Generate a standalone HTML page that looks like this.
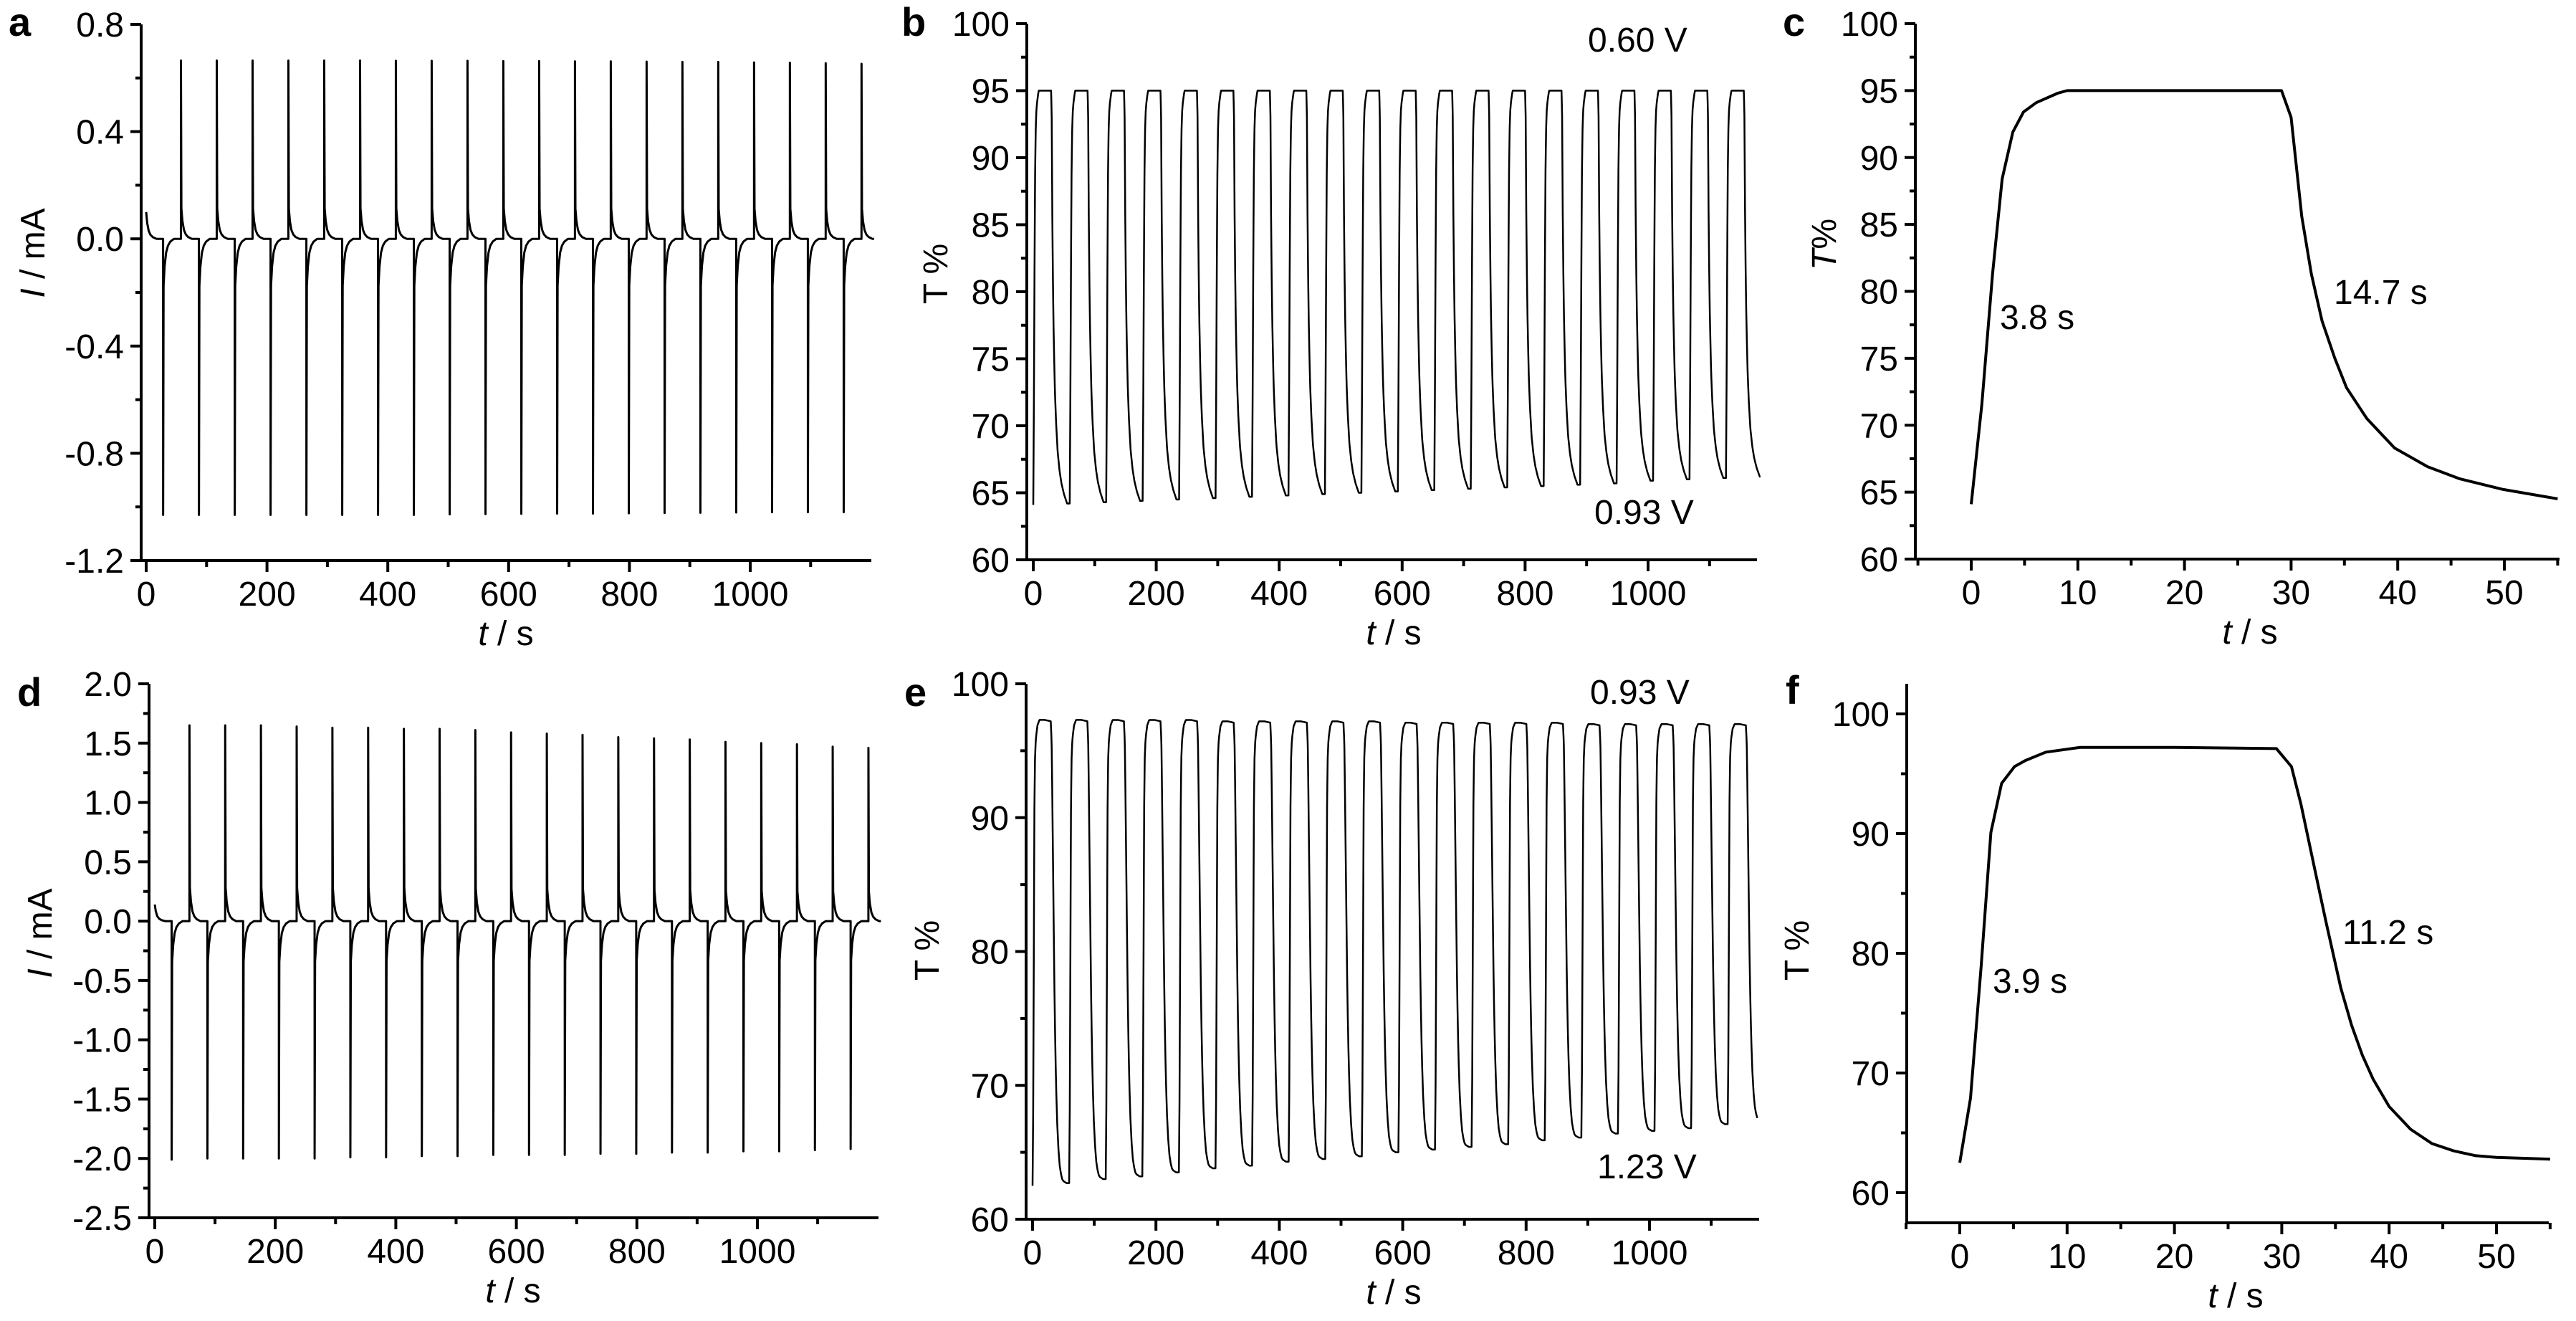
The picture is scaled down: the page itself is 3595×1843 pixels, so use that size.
<!DOCTYPE html>
<html><head><meta charset="utf-8"><style>
html,body{margin:0;padding:0;background:#fff;}
svg{display:block;font-family:"Liberation Sans",Arial,sans-serif;}
</style></head><body>
<svg id="fig" xmlns="http://www.w3.org/2000/svg" width="3595" height="1843" viewBox="0 0 3595 1843"></svg>
<script>
// ---------- data ----------
const period = 59.3;
const cycleCount = 20;
// panel a currents (mA)
const aPosPeaks = [0.665,0.665,0.665,0.665,0.665,0.665,0.664,0.664,0.664,0.663,0.663,0.662,0.662,0.661,0.66,0.66,0.658,0.657,0.655,0.653];
const aNegPeaks = [-1.03,-1.03,-1.03,-1.03,-1.03,-1.03,-1.03,-1.03,-1.028,-1.027,-1.026,-1.025,-1.025,-1.024,-1.023,-1.022,-1.021,-1.02,-1.02,-1.02];
const aStart = 0.1;
// panel d currents (mA)
const dPosPeaks = [1.65,1.65,1.65,1.64,1.63,1.63,1.62,1.62,1.61,1.59,1.58,1.57,1.55,1.54,1.53,1.51,1.5,1.49,1.47,1.46];
const dNegPeaks = [-2.01,-2.0,-2.0,-2.0,-2.0,-1.99,-1.99,-1.98,-1.98,-1.97,-1.97,-1.97,-1.96,-1.96,-1.95,-1.95,-1.94,-1.94,-1.93,-1.92];
const dStart = 0.14;
// panel b transmittance cycles
const bMax = [95,95,95,95,95,95,95,95,95,95,95,95,95,95,95,95,95,95,95,95];
const bMin = [64.2,64.3,64.4,64.5,64.6,64.7,64.8,64.9,65.0,65.1,65.2,65.3,65.4,65.5,65.6,65.7,65.9,66.0,66.1,66.2];
const bStartT = 64.1;
// panel e transmittance cycles
const eMax = [97.2,97.2,97.2,97.2,97.2,97.1,97.1,97.1,97.1,97.1,97.0,97.0,97.0,97.0,97.0,96.9,96.9,96.9,96.9,96.9];
const eMin = [62.7,63.0,63.2,63.5,63.8,64.0,64.3,64.5,64.7,65.0,65.2,65.4,65.6,65.9,66.1,66.4,66.6,66.8,67.1,67.3];
const eStartT = 62.5;
// panel c single cycle
const cT = [0,1,2,2.9,3.9,4.9,6.1,8.1,9,29.1,30,31,31.9,32.9,34.1,35.2,37.1,39.7,42.8,45.8,49.9,55];
const cV = [64.1,71.6,81.3,88.4,91.9,93.4,94.1,94.8,95,95,93,85.6,81.3,77.8,75,72.8,70.5,68.3,66.9,66,65.2,64.5];
// panel f single cycle
const fT = [0,1,2,2.9,3.9,5.1,6.1,8,11.2,20,29.5,30.9,31.8,33.1,34.1,35.5,36.5,37.5,38.5,40,42,44,46,48,50,55];
const fV = [62.5,67.9,79,90.1,94.2,95.6,96.1,96.8,97.2,97.2,97.1,95.6,92.4,86.9,82.7,77.1,74,71.5,69.5,67.2,65.3,64.1,63.5,63.1,62.95,62.8];
// spike decay template (fraction of peak after spike)
const decayDt = [0,0.05,0.8,2.5,5,8,12,18];
const decayFrac = [0,1,0.17,0.1,0.05,0.025,0.01,0];
// tick labels
const aYTicks = [0.8,0.4,0.0,-0.4,-0.8,-1.2];
const dYTicks = [2.0,1.5,1.0,0.5,0.0,-0.5,-1.0,-1.5,-2.0,-2.5];
const bYTicks = [60,65,70,75,80,85,90,95,100];
const eYTicks = [60,70,80,90,100];
const longXTicks = [0,200,400,600,800,1000];
const shortXTicks = [0,10,20,30,40,50];

// ---------- helpers ----------
const NS = "http://www.w3.org/2000/svg";
const svg = document.getElementById('fig');
function el(tag, attrs, parent){ const e=document.createElementNS(NS,tag); for(const k in attrs) e.setAttribute(k,attrs[k]); (parent||svg).appendChild(e); return e; }

function makeAxes(p){
  const g = el('g',{});
  
  
  const X = v => p.x0 + (v - 0) * p.xs;
  const Y = v => p.py0 + (v - p.vy0) * (p.py1 - p.py0) / (p.vy1 - p.vy0);
  p.X = X; p.Y = Y; p.g = g;
  // axes lines
  const ya = el('line',{x1:p.yAxisX,y1:p.yTop,x2:p.yAxisX,y2:p.xAxisY+2,stroke:'#000','stroke-width':4},g);
  
  
  const xa = el('line',{x1:p.yAxisX-2,y1:p.xAxisY,x2:p.xEnd,y2:p.xAxisY,stroke:'#000','stroke-width':4},g);
  
  
  // y ticks
  p.yTicks.forEach(v=>{
    const y=Y(v);
    el('line',{x1:p.yAxisX-15,y1:y,x2:p.yAxisX,y2:y,stroke:'#000','stroke-width':4},g);
    const t=el('text',{x:p.yAxisX-24,y:y+17,'font-size':48,'text-anchor':'end',fill:'#000'},g);
    t.textContent = p.yFmt(v);
    
    
  });
  for(let v=p.yMinorStart; v<=p.yMinorEnd+1e-9; v+=p.yMinorStep){
    const y=Y(v);
    el('line',{x1:p.yAxisX-8,y1:y,x2:p.yAxisX,y2:y,stroke:'#000','stroke-width':4},g);
  }
  // x ticks
  p.xTicks.forEach(v=>{
    const x=X(v);
    el('line',{x1:x,y1:p.xAxisY,x2:x,y2:p.xAxisY+16,stroke:'#000','stroke-width':4},g);
    const t=el('text',{x:x,y:p.xAxisY+63,'font-size':48,'text-anchor':'middle',fill:'#000'},g);
    t.textContent = String(v);
    
    
  });
  for(let v=p.xMinorStart; v<=p.xMinorEnd+1e-9; v+=p.xMinorStep){
    const x=X(v);
    el('line',{x1:x,y1:p.xAxisY,x2:x,y2:p.xAxisY+9,stroke:'#000','stroke-width':4},g);
  }
  // x title
  const xt=el('text',{x:p.xTitleX,y:p.xAxisY+118,'font-size':48,'text-anchor':'middle',fill:'#000'},g);
  xt.innerHTML='<tspan font-style="italic">t</tspan> / s';
  
  
  // y title
  const yt=el('text',{x:0,y:0,'font-size':48,'text-anchor':'middle',fill:'#000',transform:`translate(${p.yTitleX},${p.yTitleY}) rotate(-90)`},g);
  yt.innerHTML=p.yTitle;
  
  
  // panel letter
  const pl=el('text',{x:p.letterX,y:p.letterY,'font-size':56,'font-weight':'bold',fill:'#000'},g);
  pl.textContent=p.id;
  
  
  return p;
}
function drawLine(p, pts, w, name){
  const d = pts.map((q,i)=>(i?'L':'M')+p.X(q[0]).toFixed(2)+','+p.Y(q[1]).toFixed(2)).join('');
  const path = el('path',{d:d,fill:'none',stroke:'#000','stroke-width':w,'stroke-linejoin':'round'},p.g);
  
  
}
function annot(p, x, y, txt, name, fam){
  const t=el('text',{x:x,y:y,'font-size':48,fill:'#000'},p.g);
  if(fam) t.setAttribute('font-family',fam);
  t.textContent=txt;
  
  
}
// current series from peaks
function currentSeries(start, negPeaks, posPeaks, tEnd){
  const pts=[];
  // initial decay
  for(let i=2;i<decayDt.length;i++) pts.push([decayDt[i]-0.8, start*decayFrac[i]/0.17]);
  pts[0][0]=0;
  for(let k=0;k<cycleCount;k++){
    const tn = 28 + period*k, tp = 57.5 + period*k;
    [[tn,negPeaks[k]],[tp,posPeaks[k]]].forEach(([ts,pk])=>{
      if(ts>tEnd) return;
      pts.push([ts,0]);
      for(let i=1;i<decayDt.length;i++){ const t=ts+decayDt[i]; if(t<=tEnd) pts.push([t,pk*decayFrac[i]]); }
    });
  }
  pts.push([tEnd,0]);
  return pts;
}
function interp(T,V,t){
  if(t<=T[0]) return V[0];
  for(let i=1;i<T.length;i++) if(t<=T[i]) return V[i-1]+(V[i]-V[i-1])*(t-T[i-1])/(T[i]-T[i-1]);
  return V[V.length-1];
}
// transmittance series built from the single-cycle template
function transSeries(T,V,fallStart,maxArr,minArr,start,tEnd){
  const vLo=V[0], vHi=interp(T,V,fallStart), vEnd=V[V.length-1];
  const pts=[]; let prev=start;
  for(let k=0;k<cycleCount;k++){
    const t0=period*k;
    for(let s=0;s<=period;s+=0.5){
      const t=t0+s; if(t>tEnd) break;
      const v=interp(T,V,Math.min(s,T[T.length-1]));
      let out;
      if(s<=fallStart){ const f=(v-vLo)/(vHi-vLo); out=prev+f*(maxArr[k]-prev); }
      else { let f=(vHi-v)/(vHi-vEnd); if(s>T[T.length-1]) f=1; f=Math.min(f,1); out=maxArr[k]-f*(maxArr[k]-minArr[k]); }
      pts.push([t,out]);
    }
    prev=minArr[k];
  }
  return pts;
}
const f1 = v=>v.toFixed(1), f0 = v=>String(v);

// ---------- panels ----------
const A = makeAxes({id:'a',x0:204,xs:0.843,yAxisX:197,xAxisY:782,yTop:34,xEnd:1216,vy0:0.8,py0:34,vy1:-1.2,py1:782,
  yTicks:aYTicks,yFmt:f1,yMinorStart:-1.0,yMinorEnd:0.6,yMinorStep:0.4,xTicks:longXTicks,xMinorStart:100,xMinorEnd:1100,xMinorStep:200,
  xTitleX:706,yTitleX:62,yTitleY:353,yTitle:'<tspan font-style="italic">I</tspan> / mA',letterX:12,letterY:50});
drawLine(A, currentSeries(aStart,aNegPeaks,aPosPeaks,1205), 3, 'current-trace-a');

const B = makeAxes({id:'b',x0:1442,xs:0.858,yAxisX:1433,xAxisY:781,yTop:33,xEnd:2452,vy0:60,py0:781,vy1:100,py1:33,
  yTicks:bYTicks,yFmt:f0,yMinorStart:62.5,yMinorEnd:97.5,yMinorStep:5,xTicks:longXTicks,xMinorStart:100,xMinorEnd:1100,xMinorStep:200,
  xTitleX:1945,yTitleX:1322,yTitleY:382,yTitle:'T %',letterX:1258,letterY:50});
drawLine(B, transSeries(cT,cV,29.1,bMax,bMin,bStartT,1183), 2.5, 'transmittance-trace-b');
annot(B,2216,72,'0.60 V','label-0.60V');
annot(B,2225,731,'0.93 V','label-0.93V');

const C = makeAxes({id:'c',x0:2751,xs:14.88,yAxisX:2673,xAxisY:780,yTop:33,xEnd:3572,vy0:60,py0:780,vy1:100,py1:33,
  yTicks:bYTicks,yFmt:f0,yMinorStart:62.5,yMinorEnd:97.5,yMinorStep:5,xTicks:shortXTicks,xMinorStart:-5,xMinorEnd:55,xMinorStep:10,
  xTitleX:3140,yTitleX:2562,yTitleY:341,yTitle:'<tspan font-style="italic">T</tspan>%',letterX:2488,letterY:50});
drawLine(C, cT.map((t,i)=>[t,cV[i]]), 4, 'transmittance-cycle-c');
annot(C,2791,459,'3.8 s','label-3.8s');
annot(C,3257,424,'14.7 s','label-14.7s');

const D = makeAxes({id:'d',x0:216,xs:0.841,yAxisX:208,xAxisY:1699,yTop:954,xEnd:1226,vy0:2.0,py0:954,vy1:-2.5,py1:1699,
  yTicks:dYTicks,yFmt:f1,yMinorStart:-2.25,yMinorEnd:1.75,yMinorStep:0.5,xTicks:longXTicks,xMinorStart:100,xMinorEnd:1100,xMinorStep:200,
  xTitleX:716,yTitleX:72,yTitleY:1302,yTitle:'<tspan font-style="italic">I</tspan> / mA',letterX:24,letterY:985});
drawLine(D, currentSeries(dStart,dNegPeaks,dPosPeaks,1205), 3, 'current-trace-d');

const E = makeAxes({id:'e',x0:1441,xs:0.861,yAxisX:1432,xAxisY:1701,yTop:954,xEnd:2455,vy0:60,py0:1701,vy1:100,py1:954,
  yTicks:eYTicks,yFmt:f0,yMinorStart:65,yMinorEnd:95,yMinorStep:10,xTicks:longXTicks,xMinorStart:100,xMinorEnd:1100,xMinorStep:200,
  xTitleX:1945,yTitleX:1310,yTitleY:1326,yTitle:'T %',letterX:1262,letterY:985});
drawLine(E, transSeries(fT,fV,29.5,eMax,eMin,eStartT,1175), 2.5, 'transmittance-trace-e');
annot(E,2219,982,'0.93 V','label-0.93V-e');
annot(E,2229,1644,'1.23 V','label-1.23V');

const F = makeAxes({id:'f',x0:2735,xs:14.98,yAxisX:2661,xAxisY:1706,yTop:954,xEnd:3557,vy0:60,py0:1664,vy1:100,py1:996,
  yTicks:eYTicks,yFmt:f0,yMinorStart:65,yMinorEnd:95,yMinorStep:10,xTicks:shortXTicks,xMinorStart:-5,xMinorEnd:55,xMinorStep:10,
  xTitleX:3120,yTitleX:2524,yTitleY:1326,yTitle:'T %',letterX:2492,letterY:982});
drawLine(F, fT.map((t,i)=>[t,fV[i]]), 4, 'transmittance-cycle-f');
annot(F,2781,1385,'3.9 s','label-3.9s');
annot(F,3269,1317,'11.2 s','label-11.2s');
</script>
</body></html>
